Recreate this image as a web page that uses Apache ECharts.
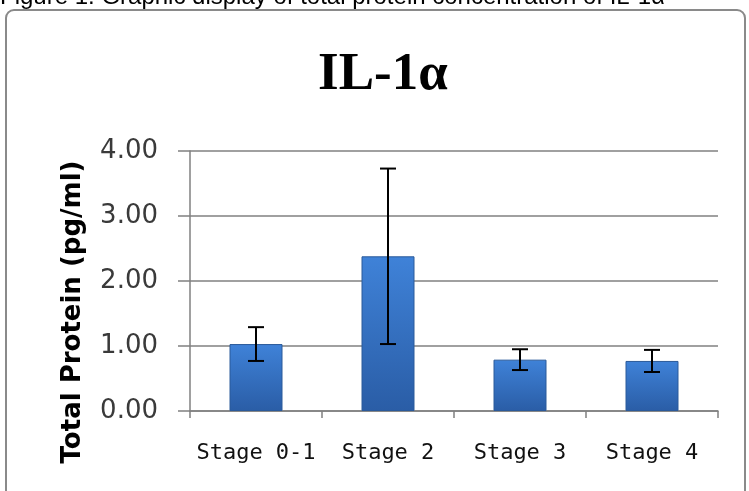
<!DOCTYPE html>
<html>
<head>
<meta charset="utf-8">
<title>IL-1α</title>
<script src="https://cdn.jsdelivr.net/npm/echarts@6/dist/echarts.min.js"></script>
<style>
	html, body {margin:0; padding:0; background:#fff;}
	#main {width:749px; height:491px;}
</style>
</head>
<body>
<div id="main"></div>
<script>
// 数据
var stages = ['Stage 0-1', 'Stage 2', 'Stage 3', 'Stage 4'];
var meanVals = [1.03, 2.38, 0.79, 0.77];
var errVals = [0.26, 1.35, 0.16, 0.17];
var yTicks = [0, 1, 2, 3, 4];

function InitChart(){
	var myChart = echarts.init(document.getElementById('main'), null, {renderer: 'canvas'});

	// 误差线数据 [index, low, high]
	var errData = [];
	for (var i = 0; i < stages.length; i++) {
		errData.push([i, meanVals[i] - errVals[i], meanVals[i] + errVals[i]]);
	}

	var option = {
		animation: false,
		title: {
			text: 'IL-1α',
			left: 313,
			top: 44,
			textStyle: {
				fontFamily: 'Liberation Serif',
				fontSize: 53,
				fontWeight: 'bold',
				color: '#000'
			}
		},
		graphic: [
			{
				//图注(上方被截断)
				type: 'text',
				left: 0,
				top: -15,
				style: {
					text: 'Figure 1. Graphic display of total protein concentration of IL-1α',
					font: '24px "Liberation Sans", Arial',
					fill: '#000'
				}
			},
			{
				type: 'rect',
				z: -10,
				shape: {x: 6, y: 10, width: 739, height: 500, r: 8},
				style: {fill: 'none', stroke: '#8a8a8a', lineWidth: 2}
			},
			{
				//纵轴标题
				type: 'text',
				x: 73,
				y: 312,
				rotation: Math.PI / 2,
				style: {
					text: 'Total Protein (pg/ml)',
					font: 'bold 26px "DejaVu Sans"',
					fill: '#000',
					align: 'center',
					verticalAlign: 'middle'
				}
			}
		],
		grid: {
			left: 190,
			right: 31,
			top: 151,
			bottom: 80,
			containLabel: false
		},
		xAxis: {
			type: 'category',
			data: stages,
			axisLine: {lineStyle: {color: '#808080', width: 1.5}},
			axisTick: {show: true, length: 7, lineStyle: {color: '#808080', width: 1.5}},
			axisLabel: {
				interval: 0,
				margin: 31,
				fontFamily: 'DejaVu Sans Mono',
				fontSize: 22,
				color: '#111'
			}
		},
		yAxis: {
			type: 'value',
			min: 0,
			max: 4,
			interval: 1,
			axisLine: {show: true, lineStyle: {color: '#808080', width: 1.5}},
			axisTick: {show: true, length: 12, lineStyle: {color: '#808080', width: 1.5}},
			splitLine: {lineStyle: {color: '#808080', width: 1.5}},
			axisLabel: {
				margin: 32,
				fontFamily: 'DejaVu Sans',
				fontSize: 26,
				color: '#3a3a3a',
				formatter: function (value) {
					return yTicks.indexOf(value) > -1 ? value.toFixed(2) : '';
				}
			}
		},
		series: [
			{
				name: 'Total Protein',
				type: 'bar',
				barWidth: 53,
				data: meanVals,
				itemStyle: {
					borderColor: '#2b5a9a',
					borderWidth: 1,
					color: new echarts.graphic.LinearGradient(0, 0, 0, 1, [
						{offset: 0, color: '#3f82d8'},
						{offset: 1, color: '#2a5da6'}
					])
				}
			},
			{
				name: 'SE',
				type: 'custom',
				z: 10,
				data: errData,
				renderItem: function (params, api) {
					var idx = api.value(0);
					var lo = api.coord([idx, api.value(1)]);
					var hi = api.coord([idx, api.value(2)]);
					var half = 8;
					var st = {stroke: '#000', lineWidth: 2};
					return {
						type: 'group',
						children: [
							{type: 'line', shape: {x1: hi[0], y1: hi[1], x2: lo[0], y2: lo[1]}, style: st},
							{type: 'line', shape: {x1: hi[0] - half, y1: hi[1], x2: hi[0] + half, y2: hi[1]}, style: st},
							{type: 'line', shape: {x1: lo[0] - half, y1: lo[1], x2: lo[0] + half, y2: lo[1]}, style: st}
						]
					};
				}
			}
		]
	};
	myChart.setOption(option);
}
InitChart();
</script>
</body>
</html>
